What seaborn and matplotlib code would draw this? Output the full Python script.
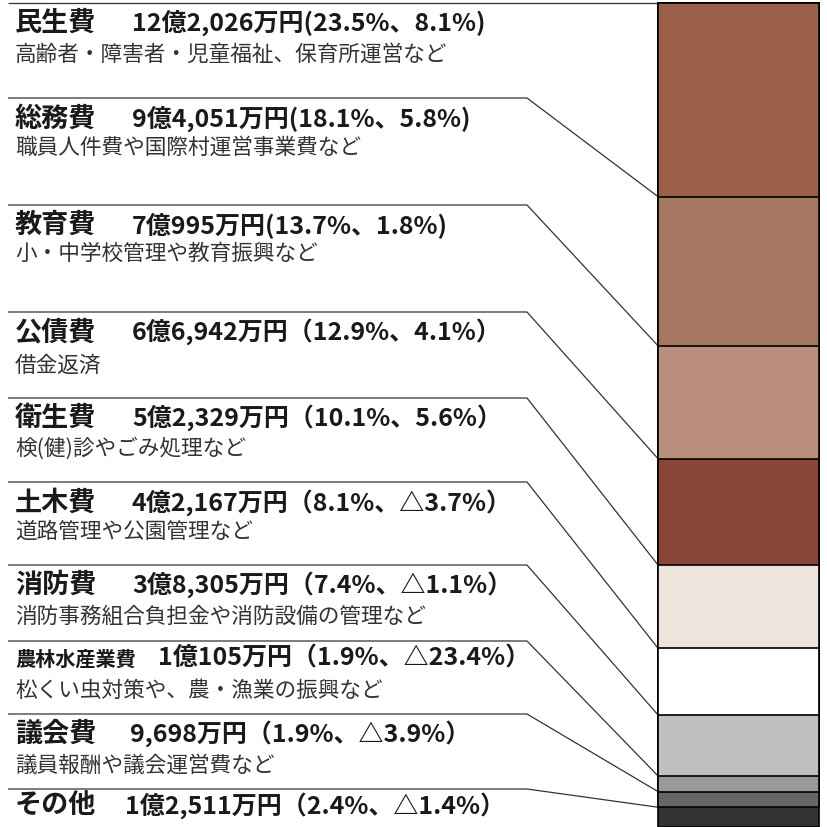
import numpy as np
import matplotlib
matplotlib.use("Agg")
import matplotlib.pyplot as plt
import seaborn as sns

# 歳出内訳 (構成比 %, 対前年度比 %)
names = ["民生費", "総務費", "教育費", "公債費", "衛生費",
         "土木費", "消防費", "農林水産業費", "議会費", "その他"]
amounts = ["12億2,026万円", "9億4,051万円", "7億995万円", "6億6,942万円", "5億2,329万円",
           "4億2,167万円", "3億8,305万円", "1億105万円", "9,698万円", "1億2,511万円"]
shares = [23.5, 18.1, 13.7, 12.9, 10.1, 8.1, 7.4, 1.9, 1.9, 2.4]
changes = ["8.1%", "5.8%", "1.8%", "4.1%", "5.6%",
           "△3.7%", "△1.1%", "△23.4%", "△3.9%", "△1.4%"]
notes = ["高齢者・障害者・児童福祉、保育所運営など",
         "職員人件費や国際村運営事業費など",
         "小・中学校管理や教育振興など",
         "借金返済",
         "検(健)診やごみ処理など",
         "道路管理や公園管理など",
         "消防事務組合負担金や消防設備の管理など",
         "松くい虫対策や、農・漁業の振興など",
         "議員報酬や議会運営費など",
         ""]
colors = ["#9A604A", "#A77861", "#BA8E7C", "#894536", "#EDE4DB",
          "#FFFFFF", "#BFBFBF", "#999999", "#666666", "#333333"]

sns.set_style("white")
plt.rcParams['font.family'] = ['Noto Sans CJK JP', 'DejaVu Sans']

W = 827
fig = plt.figure(figsize=(8.27, 8.27), dpi=100)
over = fig.add_axes([0, 0, 1, 1])
over.set_xlim(0, W)
over.set_ylim(W, 0)
over.axis("off")

# stacked bar on the right
bar_left, bar_right, bar_top = 658, 819, 3
axb = fig.add_axes([bar_left / W, 0, (bar_right - bar_left) / W, (W - bar_top) / W])
cum = np.cumsum(shares)
for i in range(len(shares) - 1, -1, -1):
    sns.barplot(x=["歳出"], y=[cum[i]], color=colors[i], saturation=1, width=1,
                edgecolor="black", linewidth=1.2, ax=axb)
axb.set_xlim(-0.5, 0.5)
axb.set_ylim(100, 0)
axb.axis("off")
for p in axb.patches:
    p.set_clip_on(False)

# label rows (pixel layout)
line_y = [3, 98, 205, 312, 398, 482, 565, 641, 714, 789]
title_y = [23, 119, 225, 332, 418, 503, 585, 659, 734, 806]
note_y = [55, 148, 254, 366, 449, 532, 617, 691, 766, 0]
value_x = [132, 132, 132, 132, 132, 132, 132, 158, 130, 125]

to_over = over.transData.inverted()
starts = np.concatenate([[0], cum[:-1]])
for i in range(len(names)):
    px, py = to_over.transform(axb.transData.transform((-0.5, starts[i])))
    over.plot([8, 527, px], [line_y[i], line_y[i], py], color="#333333", lw=0.9,
              solid_capstyle="butt")

    name_size = 14.5 if len(names[i]) > 4 else 19.5
    over.text(15, title_y[i], names[i], fontsize=name_size, fontweight="bold",
              color="#1a1a1a", va="center", ha="left")
    if i < 3:
        val = f"{amounts[i]}({shares[i]}%、{changes[i]})"
    else:
        val = f"{amounts[i]}（{shares[i]}%、{changes[i]}）"
    over.text(value_x[i], title_y[i], val, fontsize=18, fontweight="bold",
              color="#1a1a1a", va="center", ha="left")
    if notes[i]:
        over.text(15, note_y[i], notes[i], fontsize=15.6, color="#333333",
                  va="center", ha="left")

fig.savefig("out.png", dpi=100)
